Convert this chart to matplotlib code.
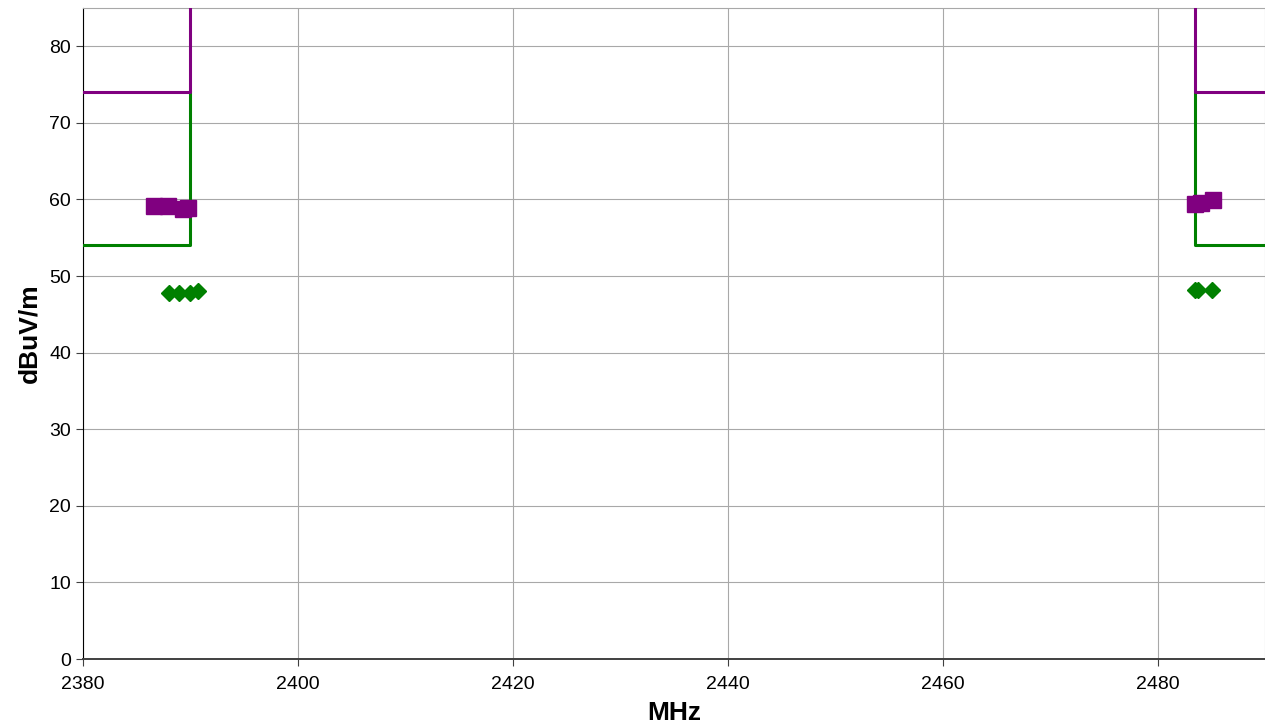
#!/usr/bin/env python3
"""Band-edge radiated emissions plot (peak / average vs limits)."""

import matplotlib.pyplot as plt

plt.rcParams['font.family'] = ['Liberation Sans', 'DejaVu Sans']

# limit lines (MHz, dBuV/m)
peak_limit_lo_f = [2380, 2390, 2390]
peak_limit_lo_v = [74, 74, 85]
peak_limit_hi_f = [2483.5, 2483.5, 2490]
peak_limit_hi_v = [85, 74, 74]
avg_limit_lo_f = [2380, 2390, 2390]
avg_limit_lo_v = [54, 54, 74]
avg_limit_hi_f = [2483.5, 2483.5, 2490]
avg_limit_hi_v = [74, 54, 54]

# measured points
peak_f = [2386.6, 2387.9, 2389.3, 2389.8, 2483.5, 2484.0, 2485.2]
peak_v = [59.2, 59.2, 58.7, 58.9, 59.4, 59.6, 59.9]
avg_f = [2388.0, 2388.9, 2390.0, 2390.7, 2483.5, 2483.8, 2485.1]
avg_v = [47.8, 47.8, 47.8, 48.0, 48.2, 48.2, 48.2]

PURPLE = '#800080'
GREEN = '#008000'


def main():
    fig = plt.figure(figsize=(12.65, 7.27), dpi=100)
    ax = fig.add_axes([0.0656, 0.0935, 0.9344, 0.8955])

    ax.plot(avg_limit_lo_f, avg_limit_lo_v, color=GREEN, lw=2.2, zorder=3)
    ax.plot(avg_limit_hi_f, avg_limit_hi_v, color=GREEN, lw=2.2, zorder=3)
    ax.plot(peak_limit_lo_f, peak_limit_lo_v, color=PURPLE, lw=2.2, zorder=4)
    ax.plot(peak_limit_hi_f, peak_limit_hi_v, color=PURPLE, lw=2.2, zorder=4)

    ax.plot(peak_f, peak_v, ls='none', marker='s', ms=11, color=PURPLE,
            mec=PURPLE, zorder=5, clip_on=False)
    ax.plot(avg_f, avg_v, ls='none', marker='D', ms=8, color=GREEN,
            mec=GREEN, zorder=5, clip_on=False)

    ax.set_xlim(2380, 2490)
    ax.set_ylim(0, 85)
    ax.set_xticks(range(2380, 2481, 20))
    ax.set_yticks(range(0, 81, 10))
    ax.grid(True, color='#a8a8a8', lw=0.8)
    ax.set_axisbelow(True)

    for side in ('top', 'right'):
        ax.spines[side].set_color('#a8a8a8')
    ax.spines['left'].set_color('black')
    ax.spines['bottom'].set_color('#404040')
    ax.spines['bottom'].set_linewidth(1.4)
    ax.tick_params(axis='both', labelsize=14, length=5, color='#404040')
    ax.tick_params(axis='x', pad=7)

    ax.set_xlabel('MHz', fontsize=19, fontweight='bold', labelpad=6)
    ax.set_ylabel('dBuV/m', fontsize=19, fontweight='bold', labelpad=6)

    plt.savefig('out.png', dpi=100)
    plt.close()


if __name__ == '__main__':
    main()
